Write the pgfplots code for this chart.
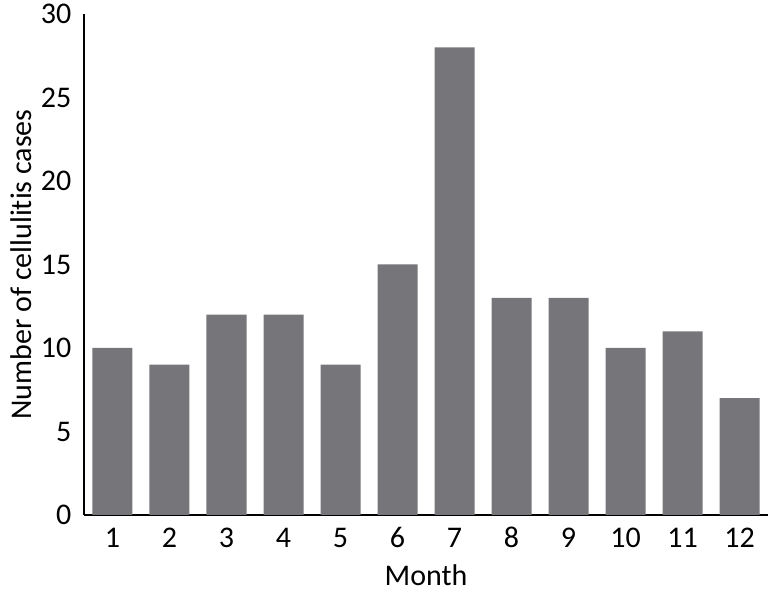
\documentclass[border=0pt]{standalone}
\usepackage{pgfplots}
\pgfplotsset{compat=1.18}
\usepackage{fontspec}
\setmainfont[Ligatures=NoCommon]{Carlito}
\definecolor{bargray}{RGB}{118,118,122}

\begin{document}
\begin{tikzpicture}[x=1pt,y=1pt]
\useasboundingbox (-63,-66) rectangle (513,386.25);
\begin{axis}[
  at={(0,0)}, anchor=origin,
  scale only axis,
  width=513pt, height=375.75pt,
  xmin=0.5, xmax=12.5,
  ymin=0, ymax=30,
  axis x line=bottom, axis y line=left,
  axis line style={line width=2pt, black, -},
  xtick={1,...,12},
  ytick={0,5,...,30},
  tick style={draw=none},
  major tick length=0pt,
  xticklabel style={anchor=base, yshift=-24pt},
  yticklabel style={xshift=-6pt},
  ticklabel style={font=\fontsize{22.5}{26}\selectfont},
  label style={font=\fontsize{22.5}{26}\selectfont},
  /pgf/number format/assume math mode=true,
  xlabel={Month},
  ylabel={Number of cellulitis cases},
  xlabel style={yshift=-6pt},
  ybar, bar width=30pt,
  clip=false,
]
\addplot[fill=bargray, draw=none] coordinates {
  (1,10) (2,9) (3,12) (4,12) (5,9) (6,15)
  (7,28) (8,13) (9,13) (10,10) (11,11) (12,7)
};
\end{axis}
\end{tikzpicture}
\end{document}
